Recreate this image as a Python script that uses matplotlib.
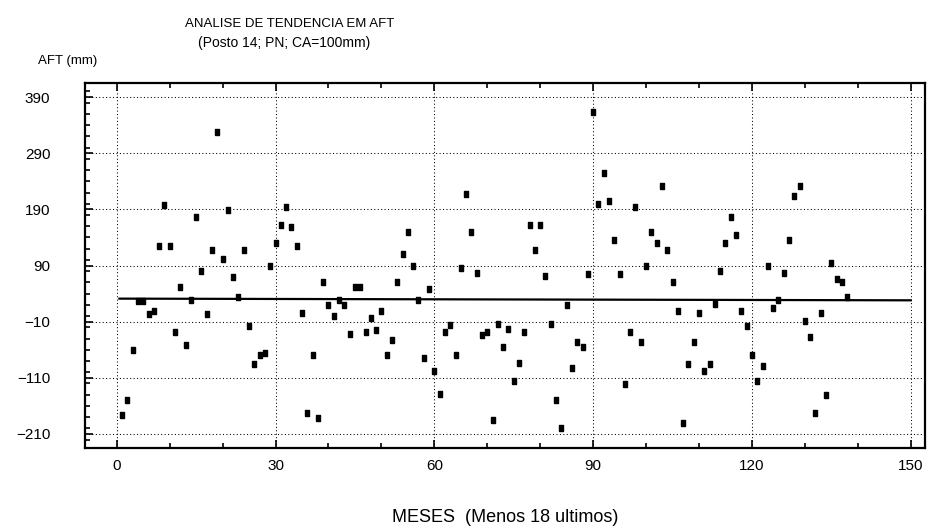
import numpy as np
import matplotlib
matplotlib.use("Agg")
import matplotlib.pyplot as plt
from matplotlib.ticker import MultipleLocator

plt.rcParams["font.family"] = ["Liberation Sans", "DejaVu Sans"]

# monthly AFT anomalies (mm), last 18 months left out
MONTHS = np.arange(1, 139)
AFT = [
    -177, -150, -61, 27, 27, 4, 9, 125, 198, 125,
    -28, 51, -51, 28, 176, 80, 4, 117, 328, 102,
    189, 70, 34, 117, -18, -85, -70, -65, 89, 130,
    163, 195, 159, 125, 5, -173, -70, -182, 61, 20,
    0, 28, 20, -32, 51, 51, -28, -4, -24, 9,
    -70, -42, 61, 111, 149, 89, 28, -74, 48, -97,
    -139, -28, -16, -70, 85, 217, 149, 76, -34, -28,
    -186, -14, -56, -23, -115, -83, -28, 163, 117, 163,
    71, -14, -150, -199, 20, -93, -47, -56, 75, 363,
    199, 255, 204, 135, 75, -121, -28, 195, -47, 89,
    149, 130, 231, 117, 61, 9, -191, -85, -47, 5,
    -98, -85, 22, 81, 130, 176, 144, 9, -18, -69,
    -115, -89, 89, 15, 28, 76, 135, 213, 232, -9,
    -38, -173, 5, -140, 94, 66, 61, 34,
]

# fitted trend, end points
TREND_X = [0.5, 150]
TREND_Y = [31, 28]

X_TICKS = [0, 30, 60, 90, 120, 150]
Y_TICKS = [390, 290, 190, 90, -10, -110, -210]

fig = plt.figure(figsize=(9.32, 5.32), dpi=100)
ax = fig.add_axes([85 / 932, 84 / 532, 840 / 932, 365 / 532])

dots = (0, (1, 2.3))
for xv in X_TICKS:
    ax.axvline(xv, color="black", lw=0.75, linestyle=dots, zorder=1)
for yv in Y_TICKS:
    ax.axhline(yv, color="black", lw=0.75, linestyle=dots, zorder=1)

ax.plot(TREND_X, TREND_Y, color="black", lw=1.6, zorder=2)

# tall narrow block marker
box = [(-0.36, -0.5), (0.36, -0.5), (0.36, 0.5), (-0.36, 0.5), (-0.36, -0.5)]
ax.plot(MONTHS, AFT, linestyle="none", marker=box, markersize=4.8,
        color="black", zorder=3)

ax.set_xlim(-6, 152.7)
ax.set_ylim(-235, 415)
ax.set_xticks(X_TICKS)
ax.set_yticks(Y_TICKS)
ax.xaxis.set_minor_locator(MultipleLocator(10))
ax.yaxis.set_minor_locator(MultipleLocator(20))
ax.tick_params(which="both", direction="in", top=True, right=False,
               width=1.2, labelsize=11)
ax.tick_params(which="major", length=6)
ax.tick_params(which="minor", length=3.5)
ax.tick_params(axis="x", pad=8)
ax.tick_params(axis="y", pad=25)
for sp in ax.spines.values():
    sp.set_linewidth(1.6)

fig.text(290 / 932, 1 - 24 / 532, "ANALISE DE TENDENCIA EM AFT",
         ha="center", va="center", fontsize=9.5)
fig.text(284 / 932, 1 - 43 / 532, "(Posto 14; PN; CA=100mm)",
         ha="center", va="center", fontsize=10)
fig.text(38 / 932, 1 - 61 / 532, "AFT (mm)", ha="left", va="center",
         fontsize=9.5)
ax.set_xlabel("MESES  (Menos 18 ultimos)", fontsize=13, labelpad=26)

fig.savefig("out.png", dpi=100, facecolor="white")
